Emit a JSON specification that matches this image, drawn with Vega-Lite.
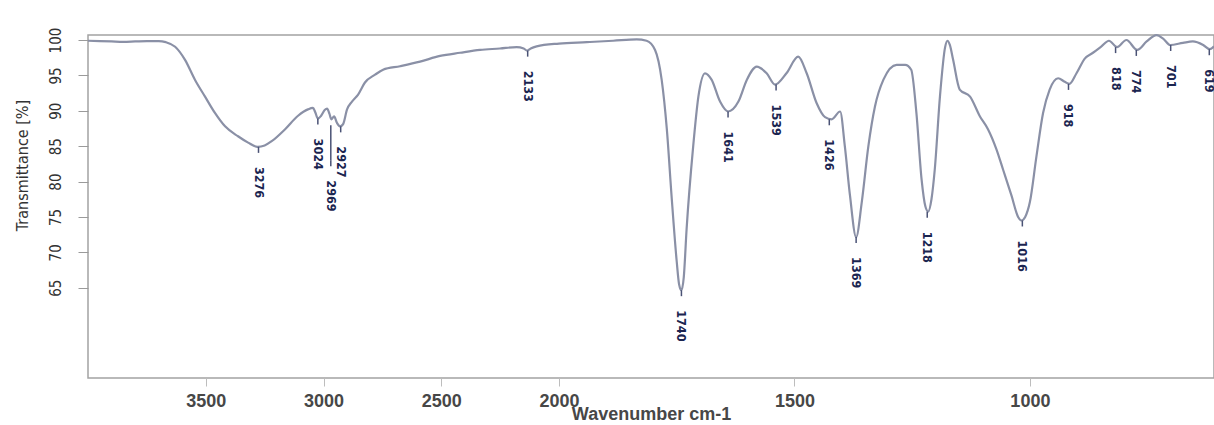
{
  "$schema": "https://vega.github.io/schema/vega-lite/v6.json",
  "width": 1126,
  "height": 343,
  "autosize": {"type": "none"},
  "padding": {"left": 88, "top": 35, "right": 0, "bottom": 47},
  "background": "white",
  "config": {
    "view": {"stroke": "#a3a3a3", "strokeWidth": 1.5},
    "font": "Liberation Sans"
  },
  "datasets": {
    "spectrum": [
      {"wn": 4000, "t": 99.9}, {"wn": 3950, "t": 99.85}, {"wn": 3900, "t": 99.8}, {"wn": 3850, "t": 99.75},
      {"wn": 3800, "t": 99.8}, {"wn": 3750, "t": 99.85}, {"wn": 3700, "t": 99.85}, {"wn": 3670, "t": 99.7},
      {"wn": 3630, "t": 99.05}, {"wn": 3588, "t": 97.2}, {"wn": 3546, "t": 94.4}, {"wn": 3503, "t": 92.0},
      {"wn": 3461, "t": 89.7}, {"wn": 3418, "t": 87.8}, {"wn": 3363, "t": 86.4}, {"wn": 3320, "t": 85.5},
      {"wn": 3280, "t": 84.9}, {"wn": 3250, "t": 85.1}, {"wn": 3220, "t": 85.7}, {"wn": 3163, "t": 87.4},
      {"wn": 3108, "t": 89.3}, {"wn": 3066, "t": 90.2}, {"wn": 3045, "t": 90.4}, {"wn": 3035, "t": 89.8},
      {"wn": 3024, "t": 88.9}, {"wn": 3010, "t": 89.3}, {"wn": 2995, "t": 90.1}, {"wn": 2985, "t": 90.3},
      {"wn": 2975, "t": 89.6}, {"wn": 2967, "t": 88.8}, {"wn": 2955, "t": 89.2}, {"wn": 2943, "t": 88.3},
      {"wn": 2930, "t": 87.8}, {"wn": 2917, "t": 88.1}, {"wn": 2900, "t": 90.2}, {"wn": 2879, "t": 91.3},
      {"wn": 2853, "t": 92.3}, {"wn": 2824, "t": 94.0}, {"wn": 2781, "t": 95.1}, {"wn": 2747, "t": 95.8},
      {"wn": 2675, "t": 96.3}, {"wn": 2590, "t": 96.95}, {"wn": 2505, "t": 97.75}, {"wn": 2420, "t": 98.2},
      {"wn": 2335, "t": 98.6}, {"wn": 2251, "t": 98.8}, {"wn": 2180, "t": 99.0}, {"wn": 2150, "t": 98.8},
      {"wn": 2135, "t": 98.5}, {"wn": 2120, "t": 98.8}, {"wn": 2095, "t": 99.1}, {"wn": 2000, "t": 99.5},
      {"wn": 1941, "t": 99.7}, {"wn": 1885, "t": 99.9}, {"wn": 1835, "t": 100.1}, {"wn": 1814, "t": 99.9},
      {"wn": 1796, "t": 98.6}, {"wn": 1782, "t": 94.4}, {"wn": 1771, "t": 87.4}, {"wn": 1761, "t": 78.0},
      {"wn": 1750, "t": 68.7}, {"wn": 1745, "t": 65.5}, {"wn": 1740, "t": 64.65}, {"wn": 1735, "t": 66.5},
      {"wn": 1729, "t": 73.3}, {"wn": 1715, "t": 85.0}, {"wn": 1704, "t": 92.0}, {"wn": 1690, "t": 95.3},
      {"wn": 1676, "t": 94.4}, {"wn": 1658, "t": 91.3}, {"wn": 1641, "t": 89.9}, {"wn": 1619, "t": 91.3},
      {"wn": 1601, "t": 94.4}, {"wn": 1580, "t": 96.25}, {"wn": 1559, "t": 95.3}, {"wn": 1541, "t": 93.7},
      {"wn": 1517, "t": 95.3}, {"wn": 1492, "t": 97.65}, {"wn": 1474, "t": 95.3}, {"wn": 1453, "t": 91.1},
      {"wn": 1435, "t": 89.1}, {"wn": 1421, "t": 88.8}, {"wn": 1403, "t": 89.9}, {"wn": 1393, "t": 85.0},
      {"wn": 1382, "t": 78.0}, {"wn": 1369, "t": 72.15}, {"wn": 1357, "t": 77.1}, {"wn": 1343, "t": 85.0},
      {"wn": 1329, "t": 90.6}, {"wn": 1311, "t": 94.4}, {"wn": 1283, "t": 96.5}, {"wn": 1265, "t": 96.5},
      {"wn": 1252, "t": 95.8}, {"wn": 1241, "t": 89.7}, {"wn": 1230, "t": 80.3}, {"wn": 1222, "t": 76.5},
      {"wn": 1216, "t": 75.75}, {"wn": 1209, "t": 77.5}, {"wn": 1202, "t": 81.7}, {"wn": 1191, "t": 92.0},
      {"wn": 1180, "t": 99.0}, {"wn": 1175, "t": 99.9}, {"wn": 1170, "t": 99.3}, {"wn": 1163, "t": 97.2},
      {"wn": 1149, "t": 93.0}, {"wn": 1127, "t": 92.0}, {"wn": 1106, "t": 89.2}, {"wn": 1089, "t": 87.4},
      {"wn": 1071, "t": 84.55}, {"wn": 1057, "t": 81.7}, {"wn": 1039, "t": 78.0}, {"wn": 1025, "t": 75.0},
      {"wn": 1018, "t": 74.5}, {"wn": 1010, "t": 75.0}, {"wn": 1000, "t": 77.1}, {"wn": 986, "t": 83.6},
      {"wn": 972, "t": 89.7}, {"wn": 958, "t": 93.0}, {"wn": 940, "t": 94.6}, {"wn": 926, "t": 94.1},
      {"wn": 916, "t": 93.8}, {"wn": 901, "t": 95.3}, {"wn": 883, "t": 97.4}, {"wn": 866, "t": 98.2},
      {"wn": 848, "t": 99.1}, {"wn": 832, "t": 99.9}, {"wn": 815, "t": 99.0}, {"wn": 795, "t": 100.0},
      {"wn": 772, "t": 98.6}, {"wn": 752, "t": 99.8}, {"wn": 731, "t": 100.7}, {"wn": 717, "t": 100.2},
      {"wn": 702, "t": 99.3}, {"wn": 675, "t": 99.6}, {"wn": 654, "t": 99.8}, {"wn": 632, "t": 99.3},
      {"wn": 618, "t": 98.7}, {"wn": 609, "t": 99.1}
    ],
    "peaks": [
      {"wn": 3276, "lab": "3276", "peak": 84.9, "anchor": 84.9},
      {"wn": 3024, "lab": "3024", "peak": 88.9, "anchor": 88.9},
      {"wn": 2969, "lab": "2969", "peak": 88.8, "anchor": 83.0},
      {"wn": 2927, "lab": "2927", "peak": 87.8, "anchor": 87.8},
      {"wn": 2133, "lab": "2133", "peak": 98.5, "anchor": 98.5},
      {"wn": 1740, "lab": "1740", "peak": 64.65, "anchor": 64.65},
      {"wn": 1641, "lab": "1641", "peak": 89.9, "anchor": 89.9},
      {"wn": 1539, "lab": "1539", "peak": 93.7, "anchor": 93.7},
      {"wn": 1426, "lab": "1426", "peak": 88.8, "anchor": 88.8},
      {"wn": 1369, "lab": "1369", "peak": 72.15, "anchor": 72.15},
      {"wn": 1218, "lab": "1218", "peak": 75.75, "anchor": 75.75},
      {"wn": 1016, "lab": "1016", "peak": 74.5, "anchor": 74.5},
      {"wn": 918, "lab": "918", "peak": 93.8, "anchor": 93.8},
      {"wn": 818, "lab": "818", "peak": 99.0, "anchor": 99.0},
      {"wn": 774, "lab": "774", "peak": 98.6, "anchor": 98.6},
      {"wn": 701, "lab": "701", "peak": 99.3, "anchor": 99.3},
      {"wn": 619, "lab": "619", "peak": 98.7, "anchor": 98.7}
    ]
  },
  "encoding": {
    "x": {
      "field": "wn",
      "type": "quantitative",
      "scale": {"domain": [4000, 2000, 609], "range": [0, 471, 1126], "nice": false, "zero": false},
      "axis": {
        "values": [3500, 3000, 2500, 2000, 1500, 1000],
        "format": "d",
        "title": "Wavenumber cm-1",
        "grid": false,
        "domain": false,
        "tickColor": "#bdbdbd",
        "tickSize": 8,
        "labelPadding": 6,
        "labelFont": "Liberation Sans",
        "labelFontSize": 18,
        "labelFontWeight": "bold",
        "labelColor": "#474747",
        "titleFont": "Liberation Sans",
        "titleFontSize": 18,
        "titleFontWeight": "bold",
        "titleColor": "#474747",
        "titleBaseline": "alphabetic",
        "titleY": 41
      }
    }
  },
  "layer": [
    {
      "data": {"name": "spectrum"},
      "mark": {"type": "line", "color": "#8a90a6", "strokeWidth": 2.2, "interpolate": "monotone"},
      "encoding": {
        "y": {
          "field": "t",
          "type": "quantitative",
          "scale": {"domain": [52.24, 100.71], "nice": false, "zero": false},
          "axis": {
            "values": [65, 70, 75, 80, 85, 90, 95, 100],
            "title": "Transmittance [%]",
            "grid": false,
            "domain": false,
            "tickColor": "#9a9a9a",
            "tickSize": 10,
            "labelAngle": -90,
            "labelAlign": "center",
            "labelBaseline": "middle",
            "labelPadding": 23,
            "labelFont": "Liberation Sans Narrow, DejaVu Sans Condensed, sans-serif",
            "labelFontSize": 15,
            "labelColor": "#333333",
            "titleFont": "Liberation Sans Narrow, DejaVu Sans Condensed, sans-serif",
            "titleFontSize": 16,
            "titleFontWeight": "normal",
            "titleColor": "#333333",
            "titleAngle": -90,
            "titleAlign": "center",
            "titleBaseline": "middle",
            "titleX": -66,
            "titleY": 130
          }
        }
      }
    },
    {
      "data": {"name": "peaks"},
      "mark": {"type": "rule", "color": "#4a5275", "strokeWidth": 1.5},
      "encoding": {
        "y": {"field": "anchor", "type": "quantitative"},
        "yOffset": {"value": 6},
        "y2": {"field": "anchor"},
        "y2Offset": {"value": 15}
      }
    },
    {
      "data": {"name": "peaks"},
      "transform": [{"filter": "datum.peak != datum.anchor"}],
      "mark": {"type": "rule", "color": "#4a5275", "strokeWidth": 1.5},
      "encoding": {
        "y": {"field": "peak", "type": "quantitative"},
        "yOffset": {"value": 6},
        "y2": {"field": "anchor"},
        "y2Offset": {"value": 15}
      }
    },
    {
      "data": {"name": "peaks"},
      "mark": {
        "type": "text",
        "angle": 90,
        "align": "left",
        "baseline": "middle",
        "font": "DejaVu Sans Condensed",
        "fontWeight": "bold",
        "fontSize": 12.5,
        "color": "#1b2550",
        "yOffset": 20
      },
      "encoding": {
        "y": {"field": "anchor", "type": "quantitative"},
        "text": {"field": "lab"}
      }
    }
  ]
}
